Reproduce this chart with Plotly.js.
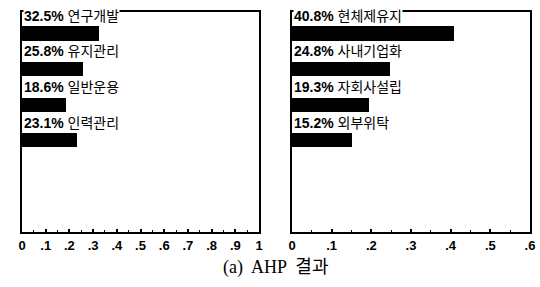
<!DOCTYPE html>
<html>
<head>
<meta charset="utf-8">
<script src="https://cdn.plot.ly/plotly-3.0.1.min.js"></script>
<style>html,body{margin:0;padding:0;background:#fff;}#chart{width:540px;height:287px;}</style>
</head>
<body>
<div id="chart"></div>
<script>
// Left panel: AHP weights of activity areas
var leftCategories = ['연구개발', '유지관리', '일반운용', '인력관리'];
var leftValues = [0.325, 0.258, 0.186, 0.231];
var leftTickVals = [0, 0.1, 0.2, 0.3, 0.4, 0.5, 0.6, 0.7, 0.8, 0.9, 1];
var leftTickText = ['0', '.1', '.2', '.3', '.4', '.5', '.6', '.7', '.8', '.9', '1'];

// Right panel: AHP weights of operation alternatives
var rightCategories = ['현체제유지', '사내기업화', '자회사설립', '외부위탁'];
var rightValues = [0.408, 0.248, 0.193, 0.152];
var rightTickVals = [0, 0.1, 0.2, 0.3, 0.4, 0.5, 0.6];
var rightTickText = ['0', '.1', '.2', '.3', '.4', '.5', '.6'];

var captionText = '(a)  AHP  결과';

var traces = [
  {type: 'bar', orientation: 'h', x: leftValues, y: leftCategories, xaxis: 'x', yaxis: 'y',
   marker: {color: '#000', line: {width: 0}}, width: 0.4, hoverinfo: 'skip'},
  {type: 'bar', orientation: 'h', x: rightValues, y: rightCategories, xaxis: 'x2', yaxis: 'y2',
   marker: {color: '#000', line: {width: 0}}, width: 0.4, hoverinfo: 'skip'}
];

function pctLabel(v) { return (v * 100).toFixed(1) + '%'; }

var annotations = [];
function addLabels(cats, vals, xref, yref) {
  for (var i = 0; i < cats.length; i++) {
    annotations.push({
      xref: xref, yref: yref, x: 0, y: i - 0.5,
      xanchor: 'left', yanchor: 'middle', xshift: 1,
      text: '<b>' + pctLabel(vals[i]) + '</b> ' + cats[i],
      showarrow: false, bgcolor: '#fff', borderpad: 0,
      font: {family: 'Liberation Sans, Noto Sans CJK KR, sans-serif', size: 14, color: '#000'}
    });
  }
}
addLabels(leftCategories, leftValues, 'x', 'y');
addLabels(rightCategories, rightValues, 'x2', 'y2');

annotations.push({
  xref: 'paper', yref: 'paper', x: 275 / 540, y: 20 / 287,
  xanchor: 'center', yanchor: 'middle', showarrow: false,
  text: captionText,
  font: {family: 'Liberation Serif, Noto Sans CJK KR, serif', size: 18, color: '#000'}
});

var yRange = [5.576, -0.604];
function xAxis(domain, range, tv, tt) {
  return {
    domain: domain, range: range, tickvals: tv, ticktext: tt,
    showline: true, linecolor: '#000', linewidth: 2, mirror: true,
    ticks: 'inside', ticklen: 3, tickwidth: 2, tickcolor: '#000',
    minor: {dtick: 0.05, ticks: 'inside', ticklen: 2, tickwidth: 1, tickcolor: '#000'},
    showgrid: false, zeroline: false, fixedrange: true,
    tickfont: {family: 'Liberation Sans, Arial, sans-serif', size: 13, color: '#000', weight: 'bold'}
  };
}
function yAxis(domain, anchor) {
  return {
    domain: domain, anchor: anchor, type: 'category', range: yRange,
    showline: true, linecolor: '#000', linewidth: 2, mirror: true,
    showticklabels: false, ticks: '', showgrid: false, zeroline: false, fixedrange: true
  };
}

var layout = {
  width: 540, height: 287,
  margin: {l: 0, r: 0, t: 0, b: 0},
  paper_bgcolor: '#fff', plot_bgcolor: '#fff',
  showlegend: false, bargap: 0,
  xaxis: Object.assign(xAxis([22 / 540, 259 / 540], [0, 1], leftTickVals, leftTickText), {anchor: 'y'}),
  yaxis: yAxis([55 / 287, 275 / 287], 'x'),
  xaxis2: Object.assign(xAxis([292 / 540, 530 / 540], [0, 0.6], rightTickVals, rightTickText), {anchor: 'y2'}),
  yaxis2: yAxis([55 / 287, 275 / 287], 'x2'),
  annotations: annotations
};

Plotly.newPlot('chart', traces, layout, {staticPlot: true, displayModeBar: false});
</script>
</body>
</html>
